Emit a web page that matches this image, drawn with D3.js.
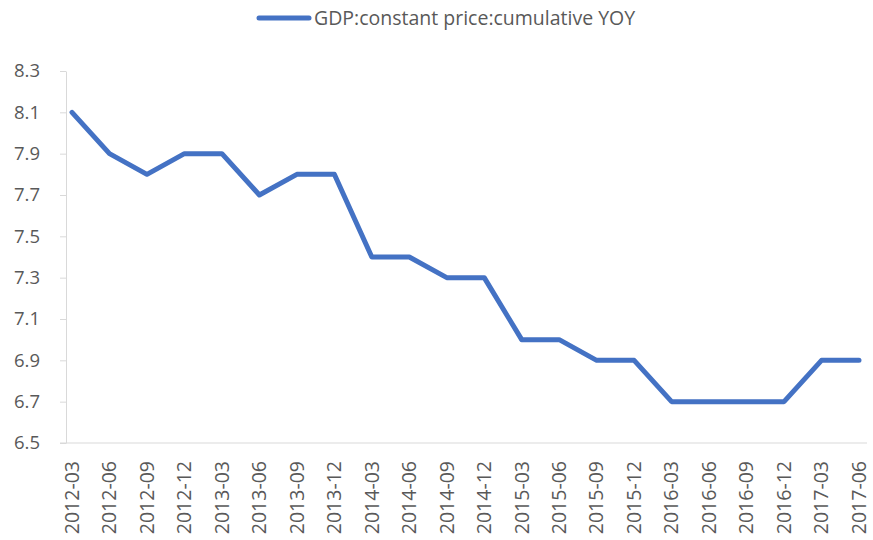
<!DOCTYPE html>
<html>
<head>
<meta charset="utf-8">
<script src="https://cdn.jsdelivr.net/npm/d3@7"></script>
<style>
  body { margin: 0; background: #fff; }
  text { font-family: "Open Sans", "Noto Sans", sans-serif; fill: #595959; }
</style>
</head>
<body>
<div id="chart"></div>
<script>
const quarters = ["2012-03","2012-06","2012-09","2012-12","2013-03","2013-06","2013-09","2013-12",
  "2014-03","2014-06","2014-09","2014-12","2015-03","2015-06","2015-09","2015-12",
  "2016-03","2016-06","2016-09","2016-12","2017-03","2017-06"]
const gdpYoy = [8.1,7.9,7.8,7.9,7.9,7.7,7.8,7.8,7.4,7.4,7.3,7.3,7.0,7.0,6.9,6.9,6.7,6.7,6.7,6.7,6.9,6.9]
const yTicks = [6.5,6.7,6.9,7.1,7.3,7.5,7.7,7.9,8.1,8.3]
const seriesName = "GDP:constant price:cumulative YOY"

const width = 873
const height = 540
const lineColor = "#4472c4"

const svg = d3.select("#chart").append("svg")
    .attr("width", width)
    .attr("height", height)

// scales
const xScale = d3.scalePoint()
    .domain(quarters)
    .range([72, 859])

const yScale = d3.scaleLinear()
    .domain([6.5, 8.3])
    .range([443, 71])

// y axis
const yAxis = svg.append("g")
    .attr("transform", "translate(66,0)")
    .call(d3.axisLeft(yScale)
      .tickValues(yTicks)
      .tickFormat(d3.format(".1f"))
      .tickSize(6)
      .tickSizeOuter(0)
      .tickPadding(20))
yAxis.select(".domain").attr("stroke", "#d9d9d9")
yAxis.selectAll(".tick line").attr("stroke", "#d9d9d9")
yAxis.selectAll(".tick text")
    .style("font-size", "18.5px")
    .attr("fill", "#595959")

// x axis line
svg.append("line")
    .attr("x1", 60)
    .attr("x2", 867)
    .attr("y1", yScale(6.5))
    .attr("y2", yScale(6.5))
    .attr("stroke", "#d9d9d9")
    .attr("stroke-width", 1.2)

// x labels
svg.append("g")
  .selectAll("text")
  .data(quarters)
  .join("text")
    .attr("transform", d => `translate(${xScale(d)},461) rotate(-90)`)
    .attr("text-anchor", "end")
    .attr("dy", "0.35em")
    .style("font-size", "19.5px")
    .text(d => d)

// line
const line = d3.line()
    .x((d, i) => xScale(quarters[i]))
    .y(d => yScale(d))

svg.append("path")
    .datum(gdpYoy)
    .attr("d", line)
    .attr("fill", "none")
    .attr("stroke", lineColor)
    .attr("stroke-width", 5)
    .attr("stroke-linejoin", "round")
    .attr("stroke-linecap", "round")

// legend
const legend = svg.append("g")
legend.append("line")
    .attr("x1", 259)
    .attr("x2", 309)
    .attr("y1", 18)
    .attr("y2", 18)
    .attr("stroke", lineColor)
    .attr("stroke-width", 5)
    .attr("stroke-linecap", "round")
legend.append("text")
    .attr("x", 314)
    .attr("y", 18)
    .attr("dy", "0.35em")
    .style("font-size", "19.5px")
    .text(seriesName)
</script>
</body>
</html>
